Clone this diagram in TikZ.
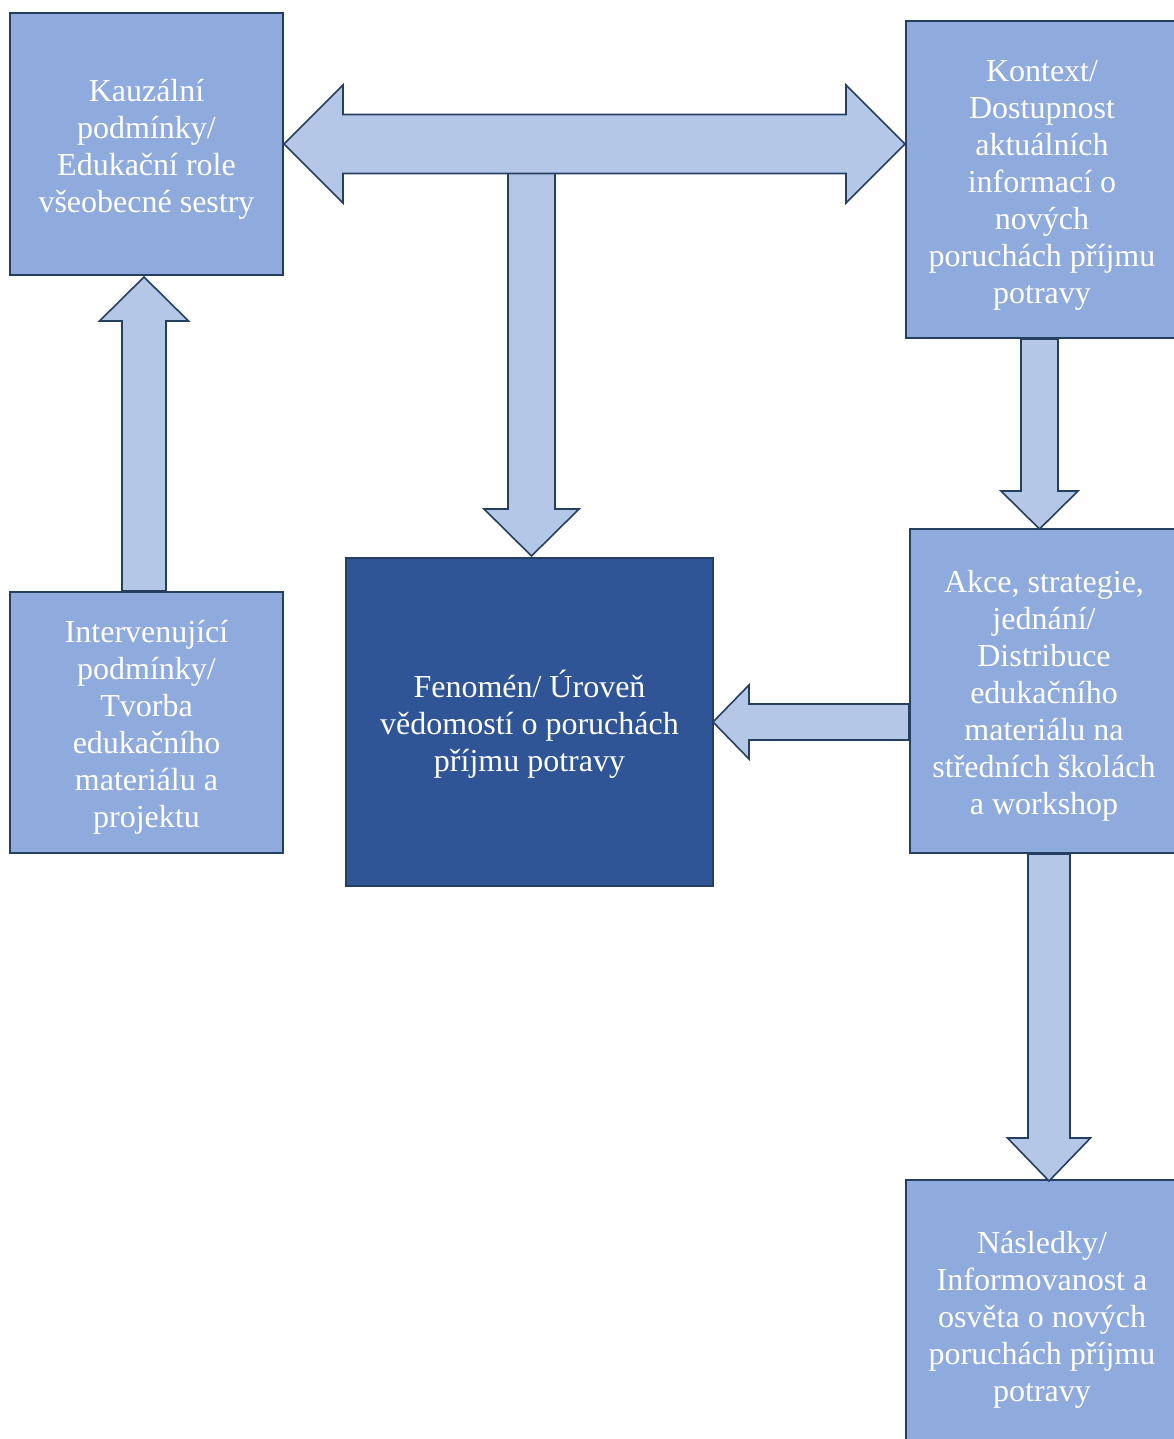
\documentclass[tikz,border=0pt]{standalone}
\usepackage{fontspec}
\setmainfont{Liberation Serif}
\usetikzlibrary{calc}
\definecolor{navy}{HTML}{243F60}
\definecolor{boxfill}{HTML}{8FAADC}
\definecolor{darkfill}{HTML}{2F5597}
\definecolor{arrowfill}{HTML}{B4C7E7}
\newcommand\topgap{\rule{0pt}{32pt}}
\begin{document}
\begin{tikzpicture}[x=1pt,y=-1pt,
    box/.style={draw=navy,line width=2pt,fill=boxfill,text=white,align=center,
      inner sep=0pt,font=\fontsize{32}{37}\selectfont},
    barrow/.style={draw=navy,line width=1.6pt,fill=arrowfill,line join=miter}]
  \useasboundingbox (0,0) rectangle (1173,1439);
  \node[box,minimum width=273,minimum height=262] (kauz) at (146.5,144)
    {\topgap Kauzální\\podmínky/\\Edukační role\\všeobecné sestry};
  \node[box,minimum width=272,minimum height=317] (kont) at (1042,179.5)
    {\topgap Kontext/\\Dostupnost\\aktuálních\\informací o\\nových\\poruchách příjmu\\potravy};
  \node[box,minimum width=273,minimum height=261] (interv) at (146.5,722.5)
    {\topgap Intervenující\\podmínky/\\Tvorba\\edukačního\\materiálu a\\projektu};
  \node[box,fill=darkfill,minimum width=367,minimum height=328] (fen) at (529.5,722)
    {\topgap Fenomén/ Úroveň\\vědomostí o poruchách\\příjmu potravy};
  \node[box,minimum width=268,minimum height=324] (akce) at (1044,691)
    {\topgap Akce, strategie,\\jednání/\\Distribuce\\edukačního\\materiálu na\\středních školách\\a workshop};
  \node[box,minimum width=272,minimum height=270] (nasl) at (1042,1315)
    {\topgap Následky/\\Informovanost a\\osvěta o nových\\poruchách příjmu\\potravy};
  % stem under the double arrow
  \draw[barrow] ($(fen.north)+(2,-1)$) -- ++(47.5,-47) -- ++(-24,0) -- ++(0,-345)
    -- ++(-47,0) -- ++(0,345) -- ++(-24,0) -- cycle;
  \draw[barrow] (kauz.east) -- ++(59,-59) -- ++(0,29.5)
    -- ($(kauz.east -| kont.west)+(-59,-29.5)$) -- ++(0,-29.5)
    -- (kauz.east -| kont.west) -- ++(-59,59) -- ++(0,-29.5)
    -- ($(kauz.east)+(59,29.5)$) -- ++(0,29.5) -- cycle;
  \draw[barrow] ($(interv.north)+(-2.5,0)$) ++(-22,0) -- ++(0,-270) -- ++(-22.5,0)
    -- ++(44.5,-44) -- ++(44.5,44) -- ++(-22.5,0) -- ++(0,270) -- cycle;
  \draw[barrow] ($(kont.south)+(-2.5,0)$) ++(-18.5,0) -- ++(0,152) -- ++(-20,0)
    -- ++(38.5,38) -- ++(38.5,-38) -- ++(-20,0) -- ++(0,-152) -- cycle;
  \draw[barrow] ($(akce.south)+(5,0)$) ++(-21,0) -- ++(0,284) -- ++(-20.5,0)
    -- ++(41.5,43) -- ++(41.5,-43) -- ++(-20.5,0) -- ++(0,-284) -- cycle;
  \draw[barrow] (akce.west |- fen.east) ++(0,-18) -- ++(-160,0) -- ++(0,-19)
    -- ++(-36,37) -- ++(36,37) -- ++(0,-19) -- ++(160,0) -- cycle;
\end{tikzpicture}
\end{document}
